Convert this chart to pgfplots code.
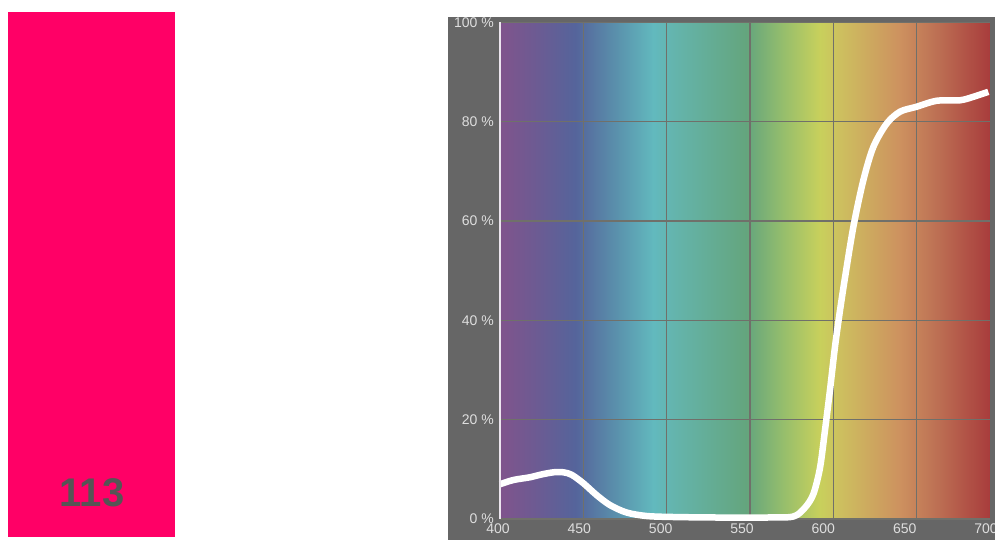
\documentclass[border=0pt]{standalone}
\usepackage{pgfplots}
\pgfplotsset{compat=1.18}
\usepackage{fontspec}
\setmainfont{Liberation Sans}
\definecolor{pinkswatch}{RGB}{255,0,102}
\definecolor{numgray}{RGB}{85,85,85}
\definecolor{panelgray}{RGB}{102,102,102}
\definecolor{labelgray}{RGB}{222,222,222}
\definecolor{gridc}{RGB}{112,112,106}
\definecolor{c400}{RGB}{128,84,140}
\definecolor{c420}{RGB}{110,90,146}
\definecolor{c445}{RGB}{85,100,155}
\definecolor{c470}{RGB}{90,145,172}
\definecolor{c492}{RGB}{98,185,190}
\definecolor{c505}{RGB}{100,180,172}
\definecolor{c548}{RGB}{100,165,125}
\definecolor{c570}{RGB}{150,190,108}
\definecolor{c592}{RGB}{200,208,92}
\definecolor{c605}{RGB}{205,190,95}
\definecolor{c640}{RGB}{205,145,95}
\definecolor{c660}{RGB}{190,115,85}
\definecolor{c694}{RGB}{168,60,60}
\pgfdeclarehorizontalshading{spectrum}{100bp}{%
color(0bp)=(c400); color(25bp)=(c400); color(28.333bp)=(c420); color(32.5bp)=(c445);
color(36.667bp)=(c470); color(40.333bp)=(c492); color(42.5bp)=(c505); color(49.667bp)=(c548);
color(53.333bp)=(c570); color(57bp)=(c592); color(59.167bp)=(c605); color(65bp)=(c640);
color(68.333bp)=(c660); color(74bp)=(c694); color(75bp)=(c694); color(100bp)=(c694)}
\begin{document}
\begin{tikzpicture}[x=1pt,y=1pt]
\path[use as bounding box] (0,0) rectangle (995,540);
\clip (0,0) rectangle (995,540);
% colour swatch
\fill[pinkswatch] (8,3) rectangle (175,528);
\node[text=numgray, font=\fontsize{40}{44}\selectfont\bfseries] at (92,47) {113};
% chart panel
\fill[panelgray] (448,0) rectangle (1000,523);
\shade[shading=spectrum] (500,21) rectangle (1000,517.7);
\begin{axis}[
  at={(500pt,21pt)}, anchor=south west,
  scale only axis, width=500pt, height=496.7pt,
  xmin=400, xmax=700, ymin=0, ymax=100,
  xtick={400,450,...,700}, ytick={0,20,...,100},
  xticklabels={},
  grid=major,
  major grid style={draw=gridc, line width=1.1pt},
  axis line style={draw=none},
  major tick length=0pt,
  /pgf/number format/assume math mode=true,
  tick label style={text=labelgray, font=\fontsize{14}{16}\selectfont, inner sep=0pt},
  yticklabel style={anchor=east, xshift=-6pt},
  yticklabel={\pgfmathprintnumber{\tick} \%},
  clip=false,
]
\addplot[white, line width=6.5pt, smooth, tension=0.5] coordinates {
(400,7.0) (408,7.85) (418,8.4) (424,8.9) (432,9.4) (438,9.4) (443,8.9)
(450,7.2) (458,4.8) (466,2.8) (476,1.3) (488,0.6) (504,0.4) (530,0.3)
(560,0.3) (576,0.5) (583,2.3) (588,5.0) (592,10.3) (595,17.9) (598,26)
(601,34.7) (604,42) (607,48.6) (612,58.8) (618,68.2) (624,74.9) (632,79.6)
(640,82) (650,83) (662,84.2) (676,84.3) (684,85) (693,86)
};
\end{axis}
% x tick labels (the reference sets them on a slightly narrower scale)
\begin{axis}[
  at={(498pt,21pt)}, anchor=south west,
  scale only axis, width=488pt, height=496.7pt,
  xmin=400, xmax=700, ymin=0, ymax=100,
  xtick={400,450,...,700}, ytick=\empty,
  axis line style={draw=none},
  major tick length=0pt,
  /pgf/number format/assume math mode=true,
  tick label style={text=labelgray, font=\fontsize{14}{16}\selectfont, inner sep=0pt},
  xticklabel style={anchor=north, yshift=-4.5pt},
]
\end{axis}
\draw[white!85!c400, line width=1.8pt] (500,21) -- (500,517.7);
\fill[panelgray] (990,18) rectangle (1000,523);
\end{tikzpicture}
\end{document}
